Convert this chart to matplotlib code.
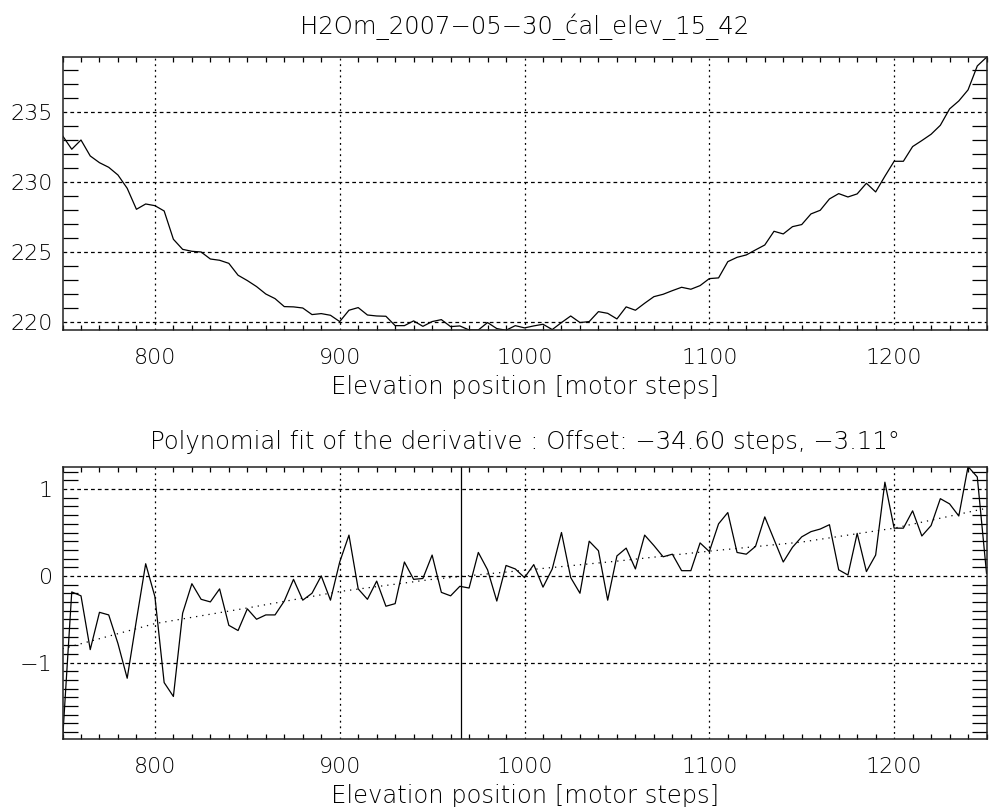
import numpy as np
import matplotlib
matplotlib.use('Agg')
import matplotlib.pyplot as plt
from matplotlib.ticker import MultipleLocator

plt.rcParams['font.family'] = ['DejaVu Sans']
plt.rcParams['font.weight'] = 'light'
plt.rcParams['axes.titleweight'] = 'light'
plt.rcParams['axes.labelweight'] = 'light'

# elevation position, every 5 motor steps
steps = np.arange(750, 1255, 5)

# top panel: signal vs elevation
signal = [233.33, 232.36, 233.02, 231.88, 231.40, 231.07, 230.52, 229.57, 228.07, 228.45,
          228.33, 227.95, 225.93, 225.21, 225.07, 225.02, 224.52, 224.43, 224.21, 223.36,
          222.98, 222.55, 222.02, 221.69, 221.12, 221.10, 221.02, 220.55, 220.62, 220.50,
          220.05, 220.86, 221.05, 220.52, 220.45, 220.43, 219.76, 219.76, 220.10, 219.71,
          220.05, 220.19, 219.69, 219.74, 219.45, 219.45, 219.98, 219.55, 219.43, 219.76,
          219.60, 219.74, 219.86, 219.48, 219.98, 220.45, 219.98, 220.05, 220.76, 220.64,
          220.24, 221.10, 220.86, 221.36, 221.83, 222.00, 222.26, 222.50, 222.36, 222.62,
          223.12, 223.17, 224.33, 224.64, 224.81, 225.17, 225.52, 226.50, 226.31, 226.83,
          226.98, 227.74, 228.00, 228.81, 229.19, 228.95, 229.17, 229.93, 229.31, 230.43,
          231.50, 231.50, 232.55, 232.98, 233.43, 234.07, 235.24, 235.81, 236.60, 238.31,
          238.93]

# bottom panel: derivative
deriv = [-1.90, -0.185, -0.23, -0.85, -0.42, -0.45, -0.78, -1.18, -0.51, 0.14,
         -0.24, -1.23, -1.39, -0.43, -0.09, -0.27, -0.30, -0.15, -0.57, -0.63,
         -0.38, -0.50, -0.45, -0.45, -0.29, -0.04, -0.28, -0.20, 0.00, -0.28,
         0.16, 0.47, -0.15, -0.27, -0.06, -0.35, -0.32, 0.16, -0.04, -0.03,
         0.24, -0.19, -0.23, -0.12, -0.14, 0.27, 0.07, -0.29, 0.12, 0.08,
         -0.02, 0.13, -0.13, 0.08, 0.50, -0.02, -0.20, 0.40, 0.29, -0.28,
         0.23, 0.32, 0.08, 0.47, 0.35, 0.22, 0.25, 0.06, 0.06, 0.38,
         0.28, 0.60, 0.73, 0.27, 0.25, 0.34, 0.68, 0.42, 0.16, 0.33,
         0.45, 0.51, 0.54, 0.59, 0.07, 0.01, 0.49, 0.05, 0.24, 1.08,
         0.55, 0.55, 0.75, 0.46, 0.58, 0.89, 0.83, 0.69, 1.26, 1.14,
         0.03]

# polynomial fit of the derivative
fit_x = [750, 800, 850, 900, 950, 1000, 1050, 1100, 1150, 1200, 1250]
fit_y = [-0.84, -0.55, -0.37, -0.18, -0.04, 0.065, 0.17, 0.285, 0.39, 0.55, 0.78]

offset_pos = 965.4
title_top = 'H2Om_2007\u221205\u221230_\u0107al_elev_15_42'
title_bot = 'Polynomial fit of the derivative : Offset: \u221234.60 steps, \u22123.11\u00b0'
xlab = 'Elevation position [motor steps]'

fig = plt.figure(figsize=(9.97, 8.07), dpi=100)
ax1 = fig.add_axes([0.0627, 0.5911, 0.9268, 0.3383])
ax2 = fig.add_axes([0.0627, 0.0843, 0.9268, 0.3370])

FS = 16
FT = 17.5


def style(ax, ymaj, ymin):
    ax.set_xlim(750, 1250)
    ax.xaxis.set_major_locator(MultipleLocator(100))
    ax.xaxis.set_minor_locator(MultipleLocator(10))
    ax.yaxis.set_major_locator(MultipleLocator(ymaj))
    ax.yaxis.set_minor_locator(MultipleLocator(ymin))
    ax.tick_params(which='major', length=0, labelsize=FS)
    ax.tick_params(axis='x', which='major', pad=13)
    ax.tick_params(axis='y', which='major', pad=7)
    ax.tick_params(axis='x', which='minor', direction='in', length=3.5, width=0.9,
                   top=True, bottom=True)
    ax.tick_params(axis='y', which='minor', direction='in', length=10.5, width=0.9,
                   left=True, right=True)
    ax.grid(True, axis='x', which='major', color='black', lw=0.9, ls=(0, (1.5, 3)))
    ax.grid(True, axis='y', which='major', color='black', lw=0.9, ls=(0, (3, 2.5)))
    for s in ax.spines.values():
        s.set_linewidth(1.1)
        s.set_color('#222222')
    ax.set_xlabel(xlab, fontsize=FT, labelpad=5)


ax1.plot(steps, signal, color='black', lw=0.9)
ax1.set_ylim(219.45, 238.95)
style(ax1, 5, 1)
ax1.set_title(title_top, fontsize=FT, pad=16.5)

ax2.plot(steps, deriv, color='black', lw=0.9)
ax2.plot(fit_x, fit_y, color='black', lw=0.9, ls=(0, (1, 4)))
ax2.axvline(offset_pos, color='black', lw=0.9)
ax2.set_ylim(-1.88, 1.255)
style(ax2, 1, 0.1)
ax2.set_title(title_bot, fontsize=FT, pad=13)

fig.savefig('out.png', dpi=100)
